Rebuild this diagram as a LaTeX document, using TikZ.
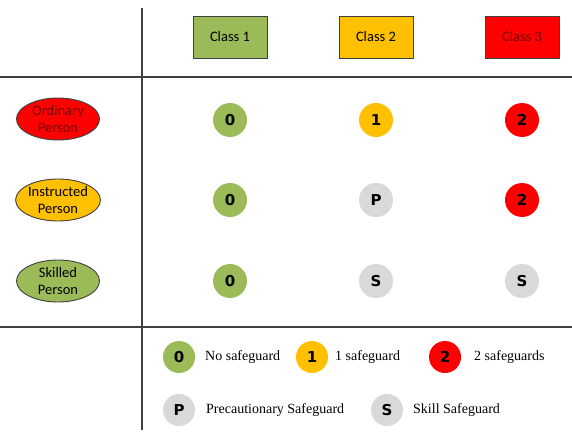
\documentclass[tikz,border=0pt]{standalone}
\usepackage{fontspec}
\setmainfont{Liberation Serif}
\newfontfamily\calfont{Carlito}
\newfontfamily\badgefont{DejaVu Sans}
\usetikzlibrary{shapes.geometric}
\definecolor{cgreen}{HTML}{9BBB59}
\definecolor{corange}{HTML}{FFC000}
\definecolor{cred}{HTML}{FF0000}
\definecolor{cgray}{HTML}{D9D9D9}
\definecolor{cdarkred}{HTML}{780000}
\definecolor{cline}{HTML}{404040}
\tikzset{
  classbox/.style={draw=cline, line width=0.9pt, minimum width=74pt, minimum height=42pt, inner sep=0pt, font=\calfont\fontsize{14.5}{16}\selectfont},
  person/.style={ellipse, draw=cline, line width=0.9pt, minimum width=83pt, minimum height=42pt, inner sep=0pt, align=center, font=\calfont\fontsize{14.5}{17}\selectfont},
  badge/.style={circle, minimum size=34pt, inner sep=0pt, font=\badgefont\bfseries\fontsize{15}{15}\selectfont},
  lbadge/.style={badge, minimum size=32pt},
  legtext/.style={anchor=west, inner sep=0pt, font=\fontsize{14}{16}\selectfont},
  rule/.style={draw=cline, line width=1.1pt}
}
\begin{document}
\begin{tikzpicture}[x=1pt,y=-1pt]
\useasboundingbox[fill=white] (0,0) rectangle (572,444);
% grid lines
\coordinate (vtop) at (142,8);
\coordinate (vbot) at (142,430);
\coordinate (h1l) at (0,77);
\coordinate (h1r) at (572,77);
\coordinate (h2l) at (0,327);
\coordinate (h2r) at (572,327);
\draw[rule] (vtop) -- (vbot);
\draw[rule] (h1l) -- (h1r);
\draw[rule] (h2l) -- (h2r);
% class headers
\node[classbox, fill=cgreen] (c1) at (230,37) {Class 1};
\node[classbox, fill=corange] (c2) at (376,37) {Class 2};
\node[classbox, fill=cred, text=cdarkred] (c3) at (522,37) {Class 3};
% persons
\node[person, fill=cred, text=cdarkred] (p1) at (58,119) {Ordinary\\Person};
\node[person, fill=corange] (p2) at (58,200) {Instructed\\Person};
\node[person, fill=cgreen] (p3) at (58,281) {Skilled\\Person};
% matrix
\node[badge, fill=cgreen] (m11) at (230,120) {0};
\node[badge, fill=corange] (m12) at (376,120) {1};
\node[badge, fill=cred] (m13) at (522,120) {2};
\node[badge, fill=cgreen] (m21) at (230,200) {0};
\node[badge, fill=cgray] (m22) at (376,200) {P};
\node[badge, fill=cred] (m23) at (522,200) {2};
\node[badge, fill=cgreen] (m31) at (230,281) {0};
\node[badge, fill=cgray] (m32) at (376,281) {S};
\node[badge, fill=cgray] (m33) at (522,281) {S};
% legend
\node[lbadge, fill=cgreen] (l0) at (179,357) {0};
\node[legtext] (t0) at (205,357) {No safeguard};
\node[lbadge, fill=corange] (l1) at (312,357) {1};
\node[legtext] (t1) at (335,357) {1 safeguard};
\node[lbadge, fill=cred] (l2) at (445,357) {2};
\node[legtext] (t2) at (474,357) {2 safeguards};
\node[lbadge, fill=cgray] (lp) at (179,410) {P};
\node[legtext] (tp) at (206,410) {Precautionary Safeguard};
\node[lbadge, fill=cgray] (ls) at (387,410) {S};
\node[legtext] (ts) at (413,410) {Skill Safeguard};
\end{tikzpicture}
\end{document}
